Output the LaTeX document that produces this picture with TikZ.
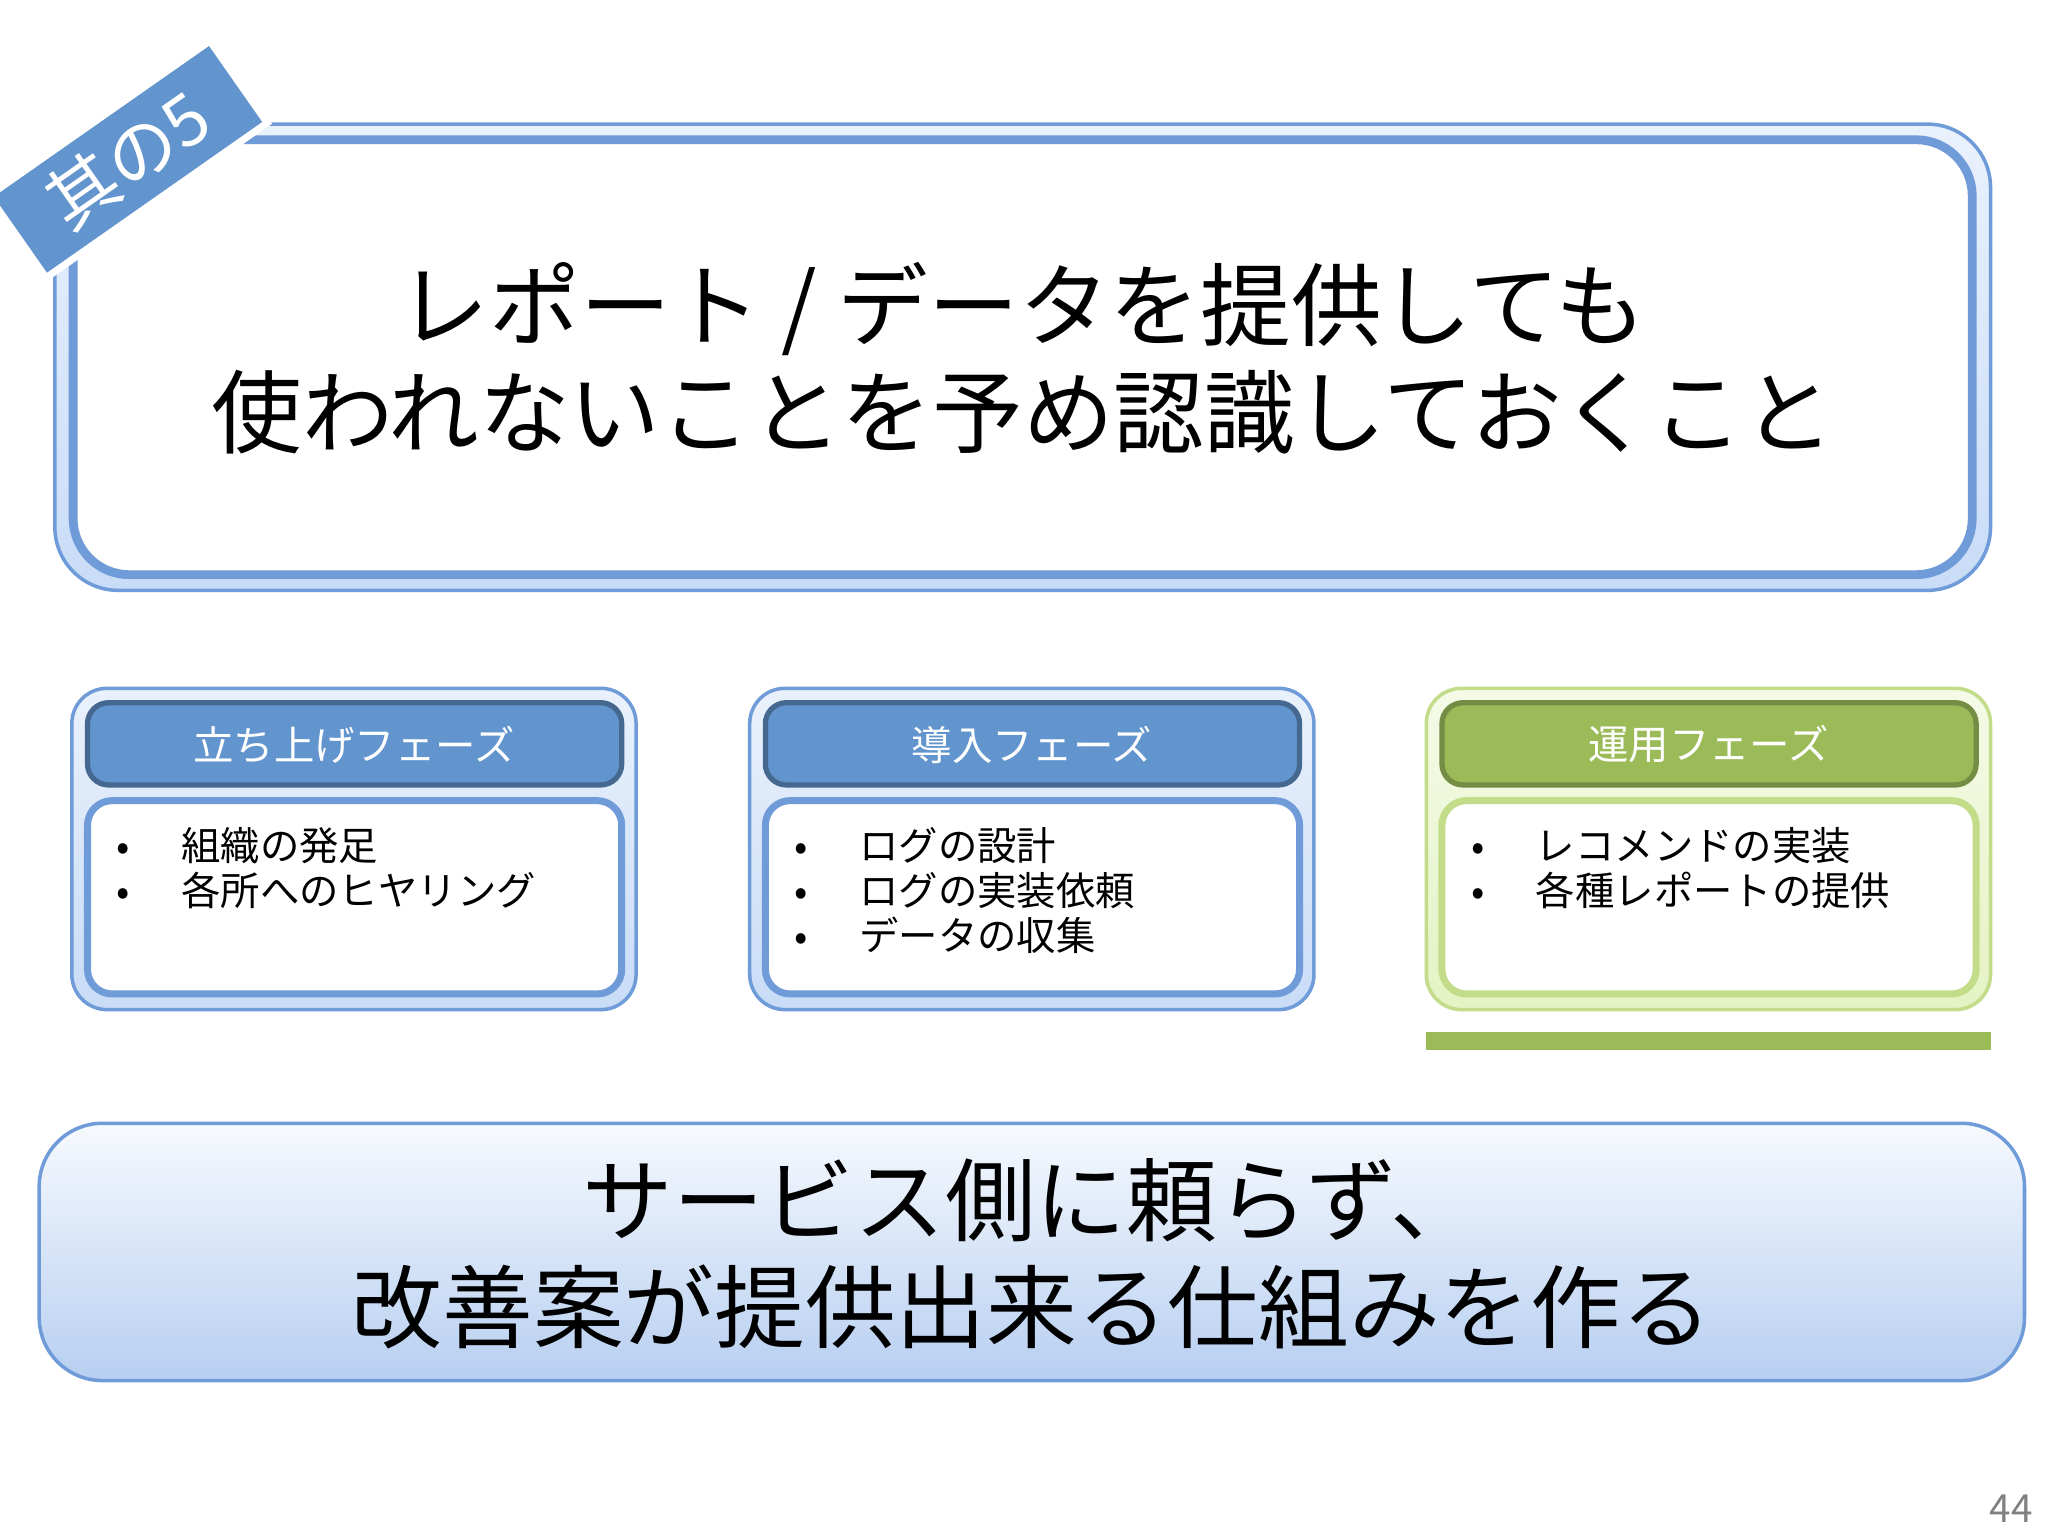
\documentclass[tikz,border=0pt]{standalone}
\usepackage{fontspec}
\setmainfont{Noto Sans CJK JP}
\definecolor{bord}{HTML}{6F9BD8}
\definecolor{hblue}{HTML}{6294CE}
\definecolor{hgreen}{HTML}{9BBB59}
\definecolor{lblue}{HTML}{C9DCF7}
\definecolor{lgreen}{HTML}{E4F3C3}
\definecolor{gbord}{HTML}{C3DC8A}
\begin{document}
\begin{tikzpicture}[x=0.013061cm,y=-0.013061cm,
  outerb/.style={draw=bord,line width=1pt,rounded corners=10pt,top color=lblue!40,bottom color=lblue},
  innerw/.style={draw=bord,line width=2pt,fill=white,rounded corners=7pt},
  hdr/.style={draw=hblue!70!black,line width=1.5pt,fill=hblue,rounded corners=6pt},
  big/.style={font=\fontsize{25.8}{30.5}\selectfont,align=center},
  itm/.style={font=\fontsize{11.2}{12.8}\selectfont,anchor=north west,align=left},
  htx/.style={font=\fontsize{11.5}{14}\selectfont,text=white}]
\useasboundingbox (0,0) rectangle (1568,1176);
\fill[white] (0,0) rectangle (1568,1176);
% top box
\draw[outerb,rounded corners=18pt] (42,95) rectangle (1524,452);
\draw[innerw,rounded corners=16pt,line width=2.5pt] (56,107) rectangle (1510,440);
\node[big] (title) at (783,274) {レポート / データを提供しても\\使われないことを予め認識しておくこと};
% tag
\node[rotate=35,fill=hblue,draw=white,line width=2pt,minimum width=2.7cm,minimum height=1.0cm,
  text=white,font=\fontsize{20}{20}\selectfont,inner sep=0pt] (tag) at (98,122) {其の5};
% panels
\foreach \x/\n in {55/a,574/b}{
  \draw[outerb] (\x,527) rectangle ++(432,246);
  \draw[hdr] (\x+12,538) rectangle ++(409,63);
  \draw[innerw] (\x+12,613) rectangle ++(409,148);
}
\draw[draw=gbord,line width=1pt,rounded corners=10pt,top color=lgreen!40,bottom color=lgreen] (1092,527) rectangle (1524,773);
\draw[draw=hgreen!75!black,line width=1.5pt,fill=hgreen,rounded corners=6pt] (1104,538) rectangle (1513,601);
\draw[draw=gbord,line width=2pt,fill=white,rounded corners=7pt] (1104,613) rectangle (1513,761);
\node[htx] (h1) at (271,570) {立ち上げフェーズ};
\node[htx] (h2) at (790,570) {導入フェーズ};
\node[htx] (h3) at (1308,570) {運用フェーズ};
\node[itm] (t1) at (80,624) {•\hspace{1.3em}組織の発足\\•\hspace{1.3em}各所へのヒヤリング};
\node[itm] (t2) at (599,624) {•\hspace{1.3em}ログの設計\\•\hspace{1.3em}ログの実装依頼\\•\hspace{1.3em}データの収集};
\node[itm] (t3) at (1117,624) {•\hspace{1.3em}レコメンドの実装\\•\hspace{1.3em}各種レポートの提供};
\draw[hgreen,line width=5pt] (1092,797) -- (1524,797);
% bottom box
\draw[draw=bord,line width=1pt,rounded corners=18pt,top color=white!85!lblue,bottom color=lblue!80!bord] (30,860) rectangle (1550,1057);
\node[big] (bottom) at (790,960) {サービス側に頼らず、\\改善案が提供出来る仕組みを作る};
\node[text=gray,font=\fontsize{11}{11}\selectfont] (pg) at (1540,1155) {44};
\end{tikzpicture}
\end{document}
